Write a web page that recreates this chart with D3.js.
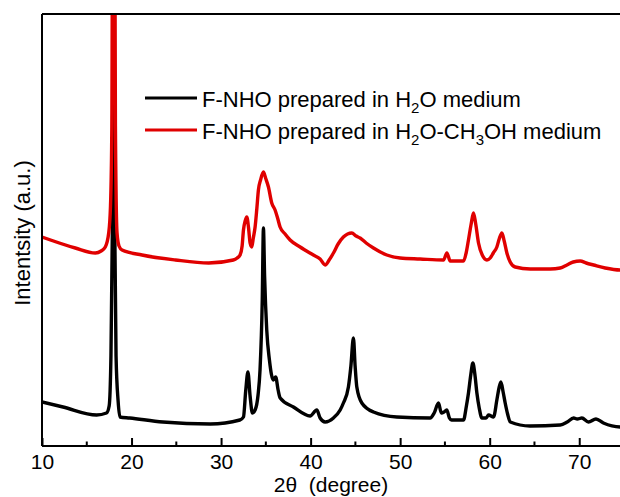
<!DOCTYPE html>
<html>
<head>
<meta charset="utf-8">
<script src="https://cdn.jsdelivr.net/npm/d3@7"></script>
<style>
  html, body { margin: 0; padding: 0; background: #fff; }
  svg { display: block; font-family: Arial, "Liberation Sans", sans-serif; }
</style>
</head>
<body>
<svg id="chart" width="620" height="497"></svg>
<script>
// XRD patterns: 2θ (degree) and intensity (a.u.)
const angleH2O = [10.0, 12.35, 16.1, 17.2, 17.5, 17.7, 17.9, 18.0, 18.1, 18.27, 18.5, 18.7, 19.8, 23.5, 28.8,
  32.1, 32.5, 32.75, 33.0, 33.24, 33.5, 33.8, 34.13, 34.35, 34.6, 34.73, 34.86, 35.1, 35.4, 35.84, 36.1, 36.37, 36.6,
  38.08, 39.94, 40.69, 41.06, 41.62, 42.55, 43.3, 43.66, 44.22, 44.5, 44.78, 44.97, 45.16, 45.72, 47.02, 49.63,
  53.35, 53.8, 54.28, 54.6, 54.9, 55.2, 55.5, 55.74, 57.07, 57.4, 57.63, 57.9, 58.12, 58.34, 58.57, 58.83, 59.13,
  59.6, 59.87, 60.43, 60.8, 61.04, 61.25, 61.5, 61.73, 62.0, 62.3, 64.5, 67.88, 68.66, 69.37, 69.78, 70.3, 71.03,
  71.87, 72.7, 74.58, 75.0];
const intensityH2O = [44, 39, 31, 33, 40, 90, 250, 350, 250, 90, 45, 29, 28, 24, 22,
  26, 29, 55, 74, 50, 33, 36, 51, 76, 146, 218, 170, 116, 86, 66, 69, 56, 48,
  39, 30, 36, 28, 24, 28, 36, 43, 59, 80, 108, 80, 59, 43, 34, 29,
  28, 33, 43, 33, 34, 36, 28, 26, 26, 40, 53, 72, 83, 72, 53, 38, 28,
  28, 31, 29, 46, 58, 64, 54, 43, 32, 24, 20, 21, 24, 28, 27, 28, 24,
  27, 23, 19, 19];

const angleMix = [10.0, 13.72, 15.96, 16.6, 17.07, 17.45, 17.65, 17.8, 17.93, 18.07, 18.2, 18.38, 18.6, 18.94,
  21.17, 24.9, 28.63, 31.37, 31.8, 32.12, 32.35, 32.5, 32.69, 32.87, 33.07, 33.24, 33.43, 33.6, 33.8, 33.99,
  34.17, 34.41, 34.73, 34.97, 35.29, 35.66, 36.03, 36.31, 36.59, 37.15, 37.71, 38.83, 40.31, 41.06, 41.62,
  42.07, 42.55, 43.07, 43.66, 44.13, 44.6, 45.08, 45.53, 46.2, 47.02, 48.51, 50.0, 52.23, 54.84, 55.22, 55.59,
  57.07, 57.37, 57.63, 57.93, 58.19, 58.44, 58.75, 59.17, 59.69, 60.06, 60.4, 60.8, 61.06, 61.36, 61.62, 61.92,
  62.29, 62.85, 64.53, 66.76, 67.88, 68.63, 69.33, 70.11, 70.78, 71.6, 72.9, 74.58, 75.0];
const intensityMix = [209, 198, 193, 195, 199, 213, 240, 320, 700, 700, 320, 213, 200, 196,
  191, 186, 183, 186, 188, 191, 200, 216, 225, 229, 218, 203, 199, 208, 219, 237,
  256, 266, 274, 268, 259, 243, 236, 228, 219, 212, 206, 199, 191, 187, 181,
  186, 193, 202, 209, 212, 213, 210, 208, 203, 198, 191, 188, 187, 186, 193, 185,
  185, 193, 206, 222, 233, 222, 203, 191, 186, 188, 193, 199, 207, 213, 205, 193,
  184, 179, 177, 177, 178, 181, 184, 185, 183, 181, 178, 176, 176];

const seriesNames = ["F-NHO prepared in H\u2082O medium", "F-NHO prepared in H\u2082O-CH\u2083OH medium"];
const seriesColors = ["#000000", "#e00000"];
const xTicks = [10, 20, 30, 40, 50, 60, 70];
const xMinorTicks = [15, 25, 35, 45, 55, 65, 75];

const svg = d3.select("#chart");
const mLeft = 42, mTop = 14, mRight = 624, mBottom = 446;

const x = d3.scaleLinear().domain([10, 75]).range([mLeft, mRight]);
const y = d3.scaleLinear().domain([0, 432]).range([mBottom, mTop]);

svg.append("defs").append("clipPath").attr("id", "plotClip")
  .append("rect").attr("x", mLeft).attr("y", mTop - 1)
  .attr("width", mRight - mLeft).attr("height", mBottom - mTop + 1);

const lineGen = d3.line().x(d => x(d[0])).y(d => y(d[1])).curve(d3.curveMonotoneX);

const plot = svg.append("g").attr("clip-path", "url(#plotClip)");
const datasets = [
  d3.zip(angleH2O, intensityH2O),
  d3.zip(angleMix, intensityMix)
];
datasets.forEach((pts, i) => {
  plot.append("path")
    .attr("d", lineGen(pts))
    .attr("fill", "none")
    .attr("stroke", seriesColors[i])
    .attr("stroke-width", 3.4)
    .attr("stroke-linejoin", "round");
});

// frame: left and top edges
svg.append("line").attr("x1", mLeft).attr("x2", mLeft).attr("y1", mTop).attr("y2", mBottom)
  .attr("stroke", "#000").attr("stroke-width", 2);
svg.append("line").attr("x1", mLeft).attr("x2", mRight).attr("y1", mTop).attr("y2", mTop)
  .attr("stroke", "#000").attr("stroke-width", 2);

// bottom axis with inward ticks
const xAxis = d3.axisBottom(x).tickValues(xTicks).tickSize(-8).tickPadding(8).tickFormat(d3.format("d"));
const gx = svg.append("g").attr("transform", `translate(0,${mBottom})`).call(xAxis);
gx.select(".domain").attr("stroke-width", 2).attr("d", `M${mLeft},0H${mRight}`);
gx.selectAll(".tick line").attr("stroke-width", 2);
gx.selectAll(".tick text").attr("font-size", 21).attr("fill", "#000")
  .attr("font-family", "Arial, 'Liberation Sans', sans-serif");

const gxm = svg.append("g").attr("transform", `translate(0,${mBottom})`);
gxm.selectAll("line").data(xMinorTicks).join("line")
  .attr("x1", d => x(d)).attr("x2", d => x(d)).attr("y1", 0).attr("y2", -4.5)
  .attr("stroke", "#000").attr("stroke-width", 2);

// axis titles
svg.append("text").attr("x", 331).attr("y", 492).attr("text-anchor", "middle")
  .attr("font-size", 21).attr("fill", "#000").style("white-space", "pre")
  .text("2\u03b8  (degree)");
svg.append("text").attr("transform", "translate(30,233) rotate(-90)").attr("text-anchor", "middle")
  .attr("font-size", 22).attr("fill", "#000")
  .text("Intentsity (a.u.)");

// legend
const legendRows = [
  { y: 98, parts: [["F-NHO prepared in H", false], ["2", true], ["O medium", false]] },
  { y: 130, parts: [["F-NHO prepared in H", false], ["2", true], ["O-CH", false], ["3", true], ["OH medium", false]] }
];
legendRows.forEach((row, i) => {
  svg.append("line").attr("x1", 145).attr("x2", 197).attr("y1", row.y).attr("y2", row.y)
    .attr("stroke", seriesColors[i]).attr("stroke-width", 3);
  const t = svg.append("text").attr("x", 202).attr("y", row.y + 8.5)
    .attr("font-size", 22).attr("fill", "#000");
  t.append("title").text(seriesNames[i]);
  row.parts.forEach(([s, sub], k) => {
    const ts = t.append("tspan").text(s);
    if (sub) ts.attr("font-size", 15).attr("dy", 6);
    else if (k > 0) ts.attr("dy", -6);
  });
});
</script>
</body>
</html>
